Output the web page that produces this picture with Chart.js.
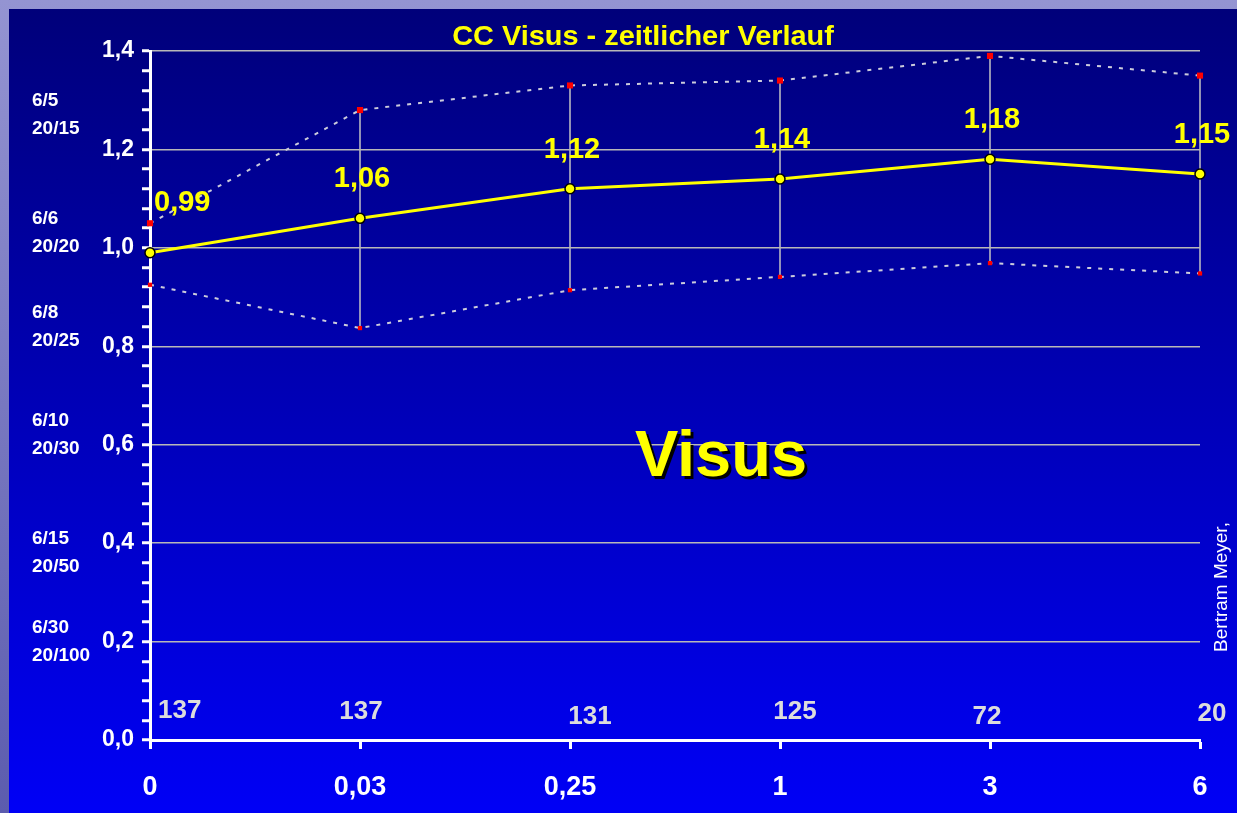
<!DOCTYPE html>
<html>
<head>
<meta charset="utf-8">
<script src="https://cdn.jsdelivr.net/npm/chart.js@4.4.0/dist/chart.umd.min.js"></script>
<style>
  html, body { margin: 0; padding: 0; width: 1237px; height: 813px; overflow: hidden; }
  body { background: linear-gradient(to bottom, #9494d2, #5c5cae); }
  #panel {
    position: absolute; left: 9px; top: 9px; width: 1228px; height: 804px;
    background: linear-gradient(to bottom, #00007a, #0000f6);
  }
</style>
</head>
<body>
<div id="panel"><canvas id="visus-chart"></canvas></div>
<script>
// time after surgery (categories)
const months = ['0', '0,03', '0,25', '1', '3', '6'];
// mean visus and the dotted upper / lower band
const meanVisus = [0.99, 1.06, 1.12, 1.14, 1.18, 1.15];
const upperVisus = [1.05, 1.28, 1.33, 1.34, 1.39, 1.35];
const lowerVisus = [0.925, 0.837, 0.914, 0.941, 0.969, 0.948];
// number of eyes at each time
const eyeCounts = [137, 137, 131, 125, 72, 20];
// snellen equivalents on the left, with the visus value they sit at
const snellenLabels = [['6/5', '20/15'], ['6/6', '20/20'], ['6/8', '20/25'], ['6/10', '20/30'], ['6/15', '20/50'], ['6/30', '20/100']];
const snellenAt = [1.27, 1.03, 0.84, 0.62, 0.38, 0.2];

const FONT = "'Liberation Sans', Arial, sans-serif";
const fmt = v => v.toFixed(2).replace('.', ',');

const extras = {
  id: 'extras',
  beforeDraw(chart) {
    // high-low lines
    const {ctx, scales: {x, y}} = chart;
    ctx.save();
    ctx.strokeStyle = '#c4c4c4';
    ctx.lineWidth = 1.5;
    months.forEach((m, i) => {
      const px = x.getPixelForValue(i);
      ctx.beginPath();
      ctx.moveTo(px, y.getPixelForValue(upperVisus[i]));
      ctx.lineTo(px, y.getPixelForValue(lowerVisus[i]));
      ctx.stroke();
    });
    ctx.restore();
  },
  afterDatasetsDraw(chart) {
    const {ctx, chartArea, scales: {x, y}} = chart;
    ctx.save();
    ctx.textBaseline = 'middle';

    // mean values
    ctx.font = 'bold 29px ' + FONT;
    ctx.fillStyle = '#ffff00';
    meanVisus.forEach((v, i) => {
      const px = x.getPixelForValue(i), py = y.getPixelForValue(v);
      if (i === 0) {
        ctx.textAlign = 'left';
        ctx.fillText(fmt(v), px + 4, py - 50);
      } else {
        ctx.textAlign = 'center';
        ctx.fillText(fmt(v), px + 2, py - 39);
      }
    });

    // eye counts
    const dx = [8, 1, 20, 15, -3, 12];
    const dy = [-1, 0, 5, 0, 5, 2];
    ctx.font = 'bold 26px ' + FONT;
    ctx.fillStyle = '#dcdcdc';
    eyeCounts.forEach((n, i) => {
      ctx.textAlign = i === 0 ? 'left' : 'center';
      ctx.fillText(String(n), x.getPixelForValue(i) + dx[i], chartArea.bottom - 28 + dy[i]);
    });

    // big "Visus"
    ctx.font = 'bold 65px ' + FONT;
    ctx.textAlign = 'center';
    ctx.textBaseline = 'alphabetic';
    const vx = chartArea.left + 571, vy = chartArea.top + 425;
    ctx.fillStyle = '#000000';
    ctx.fillText('Visus', vx + 3, vy + 3);
    ctx.fillStyle = '#ffff00';
    ctx.fillText('Visus', vx, vy);

    // title
    ctx.save();
    ctx.font = 'bold 27px ' + FONT;
    ctx.textBaseline = 'middle';
    ctx.translate(634, chartArea.top - 13);
    ctx.scale(1.07, 1);
    ctx.fillText('CC Visus - zeitlicher Verlauf', 0, 0);
    ctx.restore();

    // author note
    ctx.save();
    ctx.font = '19px ' + FONT;
    ctx.fillStyle = '#ffffff';
    ctx.textBaseline = 'middle';
    ctx.translate(chartArea.right + 22, 578);
    ctx.rotate(-Math.PI / 2);
    ctx.fillText('Bertram Meyer,', 0, 0);
    ctx.restore();

    ctx.restore();
  }
};

new Chart(document.getElementById('visus-chart'), {
  type: 'line',
  data: {
    labels: months,
    datasets: [
      {
        label: 'Visus',
        data: meanVisus,
        borderColor: '#ffff00',
        borderWidth: 3,
        pointRadius: 5,
        pointBackgroundColor: '#ffff00',
        pointBorderColor: '#000000',
        pointBorderWidth: 1.5,
        clip: false
      },
      {
        label: 'upper',
        data: upperVisus,
        borderColor: '#ccccdc',
        borderWidth: 2,
        borderDash: [4, 7],
        pointStyle: 'rect',
        pointRadius: 4.3,
        pointBackgroundColor: '#ff0000',
        pointBorderWidth: 0,
        clip: false
      },
      {
        label: 'lower',
        data: lowerVisus,
        borderColor: '#ccccdc',
        borderWidth: 2,
        borderDash: [4, 7],
        pointStyle: 'rect',
        pointRadius: 3,
        pointBackgroundColor: '#ff0000',
        pointBorderWidth: 0,
        clip: false
      }
    ]
  },
  options: {
    responsive: true,
    maintainAspectRatio: false,
    animation: false,
    layout: { padding: { left: 23, top: 42, right: 37, bottom: 0 } },
    plugins: {
      legend: { display: false },
      title: { display: false },
      tooltip: { enabled: false }
    },
    scales: {
      x: {
        offset: false,
        grid: { drawOnChartArea: false, tickLength: 9, tickColor: '#ffffff', tickWidth: 3 },
        border: { color: '#ffffff', width: 3 },
        ticks: { color: '#ffffff', font: { family: FONT, size: 27, weight: 'bold' }, padding: 22, maxRotation: 0 },
        afterFit(scale) { scale.height = 73; }
      },
      y: {
        min: 0,
        max: 1.4,
        weight: 0,
        grid: {
          color: ctx => {
            const k = Math.round(ctx.tick.value * 100);
            return k > 0 && k % 20 === 0 ? '#b8b8b8' : 'rgba(0,0,0,0)';
          },
          lineWidth: 1.5,
          tickLength: 8,
          tickColor: '#ffffff',
          tickWidth: 3
        },
        border: { color: '#ffffff', width: 3 },
        ticks: {
          stepSize: 0.04,
          autoSkip: false,
          color: '#ffffff',
          padding: 8,
          font: { family: FONT, size: 23, weight: 'bold' },
          callback: v => Math.round(v * 100) % 20 === 0 ? v.toFixed(1).replace('.', ',') : ''
        },
        afterFit(scale) { scale.width = 60; }
      },
      snellen: {
        position: 'left',
        min: 0,
        max: 1.4,
        weight: 10,
        grid: { display: false },
        border: { display: false },
        afterBuildTicks(scale) { scale.ticks = snellenAt.map(v => ({ value: v })); },
        ticks: {
          autoSkip: false,
          crossAlign: 'far',
          padding: 0,
          color: '#ffffff',
          font: { family: FONT, size: 19, weight: 'bold', lineHeight: 1.47 },
          callback: (v, i) => snellenLabels[i]
        },
        afterFit(scale) { scale.width = 58; }
      }
    }
  },
  plugins: [extras]
});
</script>
</body>
</html>
